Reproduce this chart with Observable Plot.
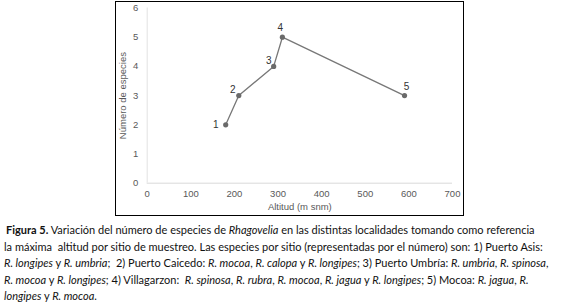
<!DOCTYPE html>
<html>
<head>
<meta charset="utf-8">
<script src="https://cdn.jsdelivr.net/npm/d3@7"></script>
<script src="https://cdn.jsdelivr.net/npm/@observablehq/plot@0.6"></script>
<style>
  html, body { margin: 0; padding: 0; background: #fff; }
  #page { position: relative; width: 580px; height: 308px; overflow: hidden; }
  #frame { position: absolute; left: 115px; top: 1px; width: 349px; height: 215px; border: 1.5px solid #000; box-sizing: border-box; }
  #chart { position: absolute; left: 0; top: 0; }
  #caption { position: absolute; left: 4px; top: 222px; font-family: Lato, "Open Sans", sans-serif; font-size: 11px; line-height: 16.5px; color: #111; }
  #caption div { white-space: nowrap; }
  #caption b { font-weight: bold; }
</style>
</head>
<body>
<div id="page">
  <div id="frame"></div>
  <div id="chart"></div>
  <div id="caption">
    <div style="padding-left:2px"><b>Figura 5.</b> Variación del número de especies de <i>Rhagovelia</i> en las distintas localidades tomando como referencia</div>
    <div>la máxima&nbsp; altitud por sitio de muestreo. Las especies por sitio (representadas por el número) son: 1) Puerto Asis:</div>
    <div><i>R. longipes</i> y <i>R. umbria</i>;&nbsp; 2) Puerto Caicedo: <i>R. mocoa</i>, <i>R. calopa</i> y <i>R. longipes</i>; 3) Puerto Umbría: <i>R. umbria</i>, <i>R. spinosa</i>,</div>
    <div><i>R. mocoa</i> y <i>R. longipes</i>; 4) Villagarzon:&nbsp; <i>R. spinosa</i>, <i>R. rubra</i>, <i>R. mocoa</i>, <i>R. jagua</i> y <i>R. longipes</i>; 5) Mocoa: <i>R. jagua</i>, <i>R.</i></div>
    <div><i>longipes</i> y <i>R. mocoa</i>.</div>
  </div>
</div>
<script>
// Data
const sites = ["1", "2", "3", "4", "5"];
const altitude = [180, 210, 290, 310, 590];
const speciesCount = [2, 3, 4, 5, 3];
const xTicks = [0, 100, 200, 300, 400, 500, 600, 700];
const yTicks = [0, 1, 2, 3, 4, 5, 6];

// Label placement (styling only): [dx, dy]
const labelOffsets = [[-10, 0], [-6, -6], [-5, -6], [-2, -9], [2, -9]];

const data = sites.map((s, i) => ({site: s, alt: altitude[i], n: speciesCount[i]}));

const font = "'Liberation Sans', Arial, sans-serif";
const textGray = "#595959";

const marks = [
  Plot.ruleY([0], {stroke: "#d9d9d9", strokeWidth: 1}),
  Plot.ruleX([0], {stroke: "#e3e3e3", strokeWidth: 1}),
  Plot.axisX({ticks: xTicks, tickFormat: d => String(d), tickSize: 0, tickPadding: 7, fill: textGray, fontSize: 9.5,
    label: "Altitud (m snm)", labelAnchor: "center", labelOffset: 27, labelArrow: "none"}),
  Plot.axisY({ticks: yTicks, tickFormat: d => String(d), tickSize: 0, tickPadding: 9, fill: textGray, fontSize: 9.5,
    label: "Número de especies", labelAnchor: "center", labelOffset: 28, labelArrow: "none"}),
  Plot.line(data, {x: "alt", y: "n", stroke: "#777777", strokeWidth: 1.3}),
  Plot.dot(data, {x: "alt", y: "n", r: 2.6, fill: "#6a6a6a", stroke: "none"}),
  ...data.map((d, i) => Plot.text([d], {x: "alt", y: "n", text: "site",
    dx: labelOffsets[i][0], dy: labelOffsets[i][1], fill: "#333", fontSize: 10}))
];

const chart = Plot.plot({
  width: 580,
  height: 218,
  marginLeft: 146.7,
  marginRight: 128,
  marginTop: 7.5,
  marginBottom: 35.3,
  style: {fontFamily: font, fontSize: "9.5px", color: textGray, background: "transparent"},
  x: {domain: [0, 700]},
  y: {domain: [0, 6]},
  marks
});
document.getElementById("chart").appendChild(chart);
</script>
</body>
</html>
